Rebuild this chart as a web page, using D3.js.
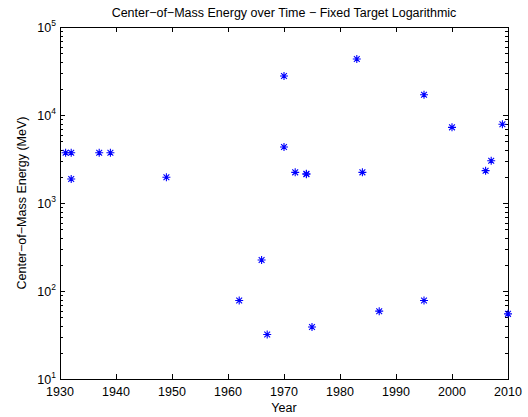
<!DOCTYPE html>
<meta charset="utf-8">
<style>
body { margin: 0; background: #fff; }
text { font-family: "Liberation Sans", Arial, sans-serif; fill: #000; }
</style>
<svg width="528" height="417"></svg>
<script src="https://cdn.jsdelivr.net/npm/d3@7"></script>
<script>

// data
var years = [1931, 1932, 1932, 1937, 1939, 1949, 1962, 1966, 1967, 1970, 1970, 1972,
             1974, 1974, 1975, 1983, 1984, 1987, 1995, 1995, 2000, 2006, 2007, 2009, 2010];
var energies = [3730, 3730, 1875, 3730, 3730, 1960, 78, 225, 32, 27700, 4330, 2230,
                2120, 2150, 39, 43300, 2230, 59, 17000, 78, 7240, 2330, 3025, 7840, 55];
var xTicks = [1930, 1940, 1950, 1960, 1970, 1980, 1990, 2000, 2010];
var yTicks = [10, 100, 1000, 10000, 100000];

var svg = d3.select("svg"),
    margin = {top: 27, right: 20, bottom: 38, left: 60},
    width = +svg.attr("width") - margin.left - margin.right,
    height = +svg.attr("height") - margin.top - margin.bottom,
    g = svg.append("g").attr("transform", "translate(" + margin.left + "," + margin.top + ")");

var x = d3.scaleLinear().domain([1930, 2010]).range([0, width]);
var y = d3.scaleLog().domain([10, 100000]).range([height, 0]);

// minor ticks for the log axis
var minor = [];
yTicks.slice(0, -1).forEach(function(t) {
  for (var k = 2; k <= 9; k++) minor.push(t * k);
});

var ticks = g.append("g").attr("stroke", "#000").attr("stroke-width", 1);

xTicks.forEach(function(t) {
  var px = Math.round(x(t)) + 0.5;
  ticks.append("line").attr("x1", px).attr("x2", px).attr("y1", height).attr("y2", height - 5);
  ticks.append("line").attr("x1", px).attr("x2", px).attr("y1", 0).attr("y2", 5);
});
yTicks.forEach(function(t) {
  var py = Math.round(y(t)) + 0.5;
  ticks.append("line").attr("x1", 0).attr("x2", 5).attr("y1", py).attr("y2", py);
  ticks.append("line").attr("x1", width).attr("x2", width - 5).attr("y1", py).attr("y2", py);
});
minor.forEach(function(t) {
  var py = Math.round(y(t)) + 0.5;
  ticks.append("line").attr("x1", 0).attr("x2", 3).attr("y1", py).attr("y2", py);
  ticks.append("line").attr("x1", width).attr("x2", width - 3).attr("y1", py).attr("y2", py);
});

// box
g.append("rect")
  .attr("x", 0.5).attr("y", 0.5)
  .attr("width", width).attr("height", height)
  .attr("fill", "none").attr("stroke", "#000").attr("stroke-width", 1);

// x tick labels
g.append("g").selectAll("text")
  .data(xTicks).enter().append("text")
  .attr("x", function(d) { return x(d); })
  .attr("y", height + 17)
  .attr("text-anchor", "middle")
  .attr("font-size", 12.5)
  .text(function(d) { return d; });

// y tick labels as 10^n
var yl = g.append("g").selectAll("text")
  .data(yTicks).enter().append("text")
  .attr("x", -4)
  .attr("y", function(d) { return y(d) + 5; })
  .attr("text-anchor", "end")
  .attr("font-size", 12.5);
yl.append("tspan").text("10");
yl.append("tspan")
  .attr("dy", -6)
  .attr("font-size", 8.5)
  .text(function(d) { return Math.round(Math.log10(d)); });

// markers (asterisk)
var r = 4, dd = 2.9;
var star = "M" + (-r) + ",0L" + r + ",0M0," + (-r) + "L0," + r +
           "M" + (-dd) + "," + (-dd) + "L" + dd + "," + dd +
           "M" + (-dd) + "," + dd + "L" + dd + "," + (-dd);

g.append("g").selectAll("path")
  .data(d3.range(years.length)).enter().append("path")
  .attr("transform", function(i) { return "translate(" + x(years[i]) + "," + y(energies[i]) + ")"; })
  .attr("d", star)
  .attr("fill", "none")
  .attr("stroke", "#0000ff")
  .attr("stroke-width", 1.1);

// title and axis labels
svg.append("text")
  .attr("x", margin.left + width / 2)
  .attr("y", 17)
  .attr("text-anchor", "middle")
  .attr("font-size", 12.5)
  .text("Center\u2212of\u2212Mass Energy over Time \u2212 Fixed Target Logarithmic");

svg.append("text")
  .attr("x", margin.left + width / 2)
  .attr("y", 412)
  .attr("text-anchor", "middle")
  .attr("font-size", 12.5)
  .text("Year");

svg.append("text")
  .attr("transform", "translate(26," + (margin.top + height / 2) + ") rotate(-90)")
  .attr("text-anchor", "middle")
  .attr("font-size", 12.5)
  .text("Center\u2212of\u2212Mass Energy (MeV)");

</script>
